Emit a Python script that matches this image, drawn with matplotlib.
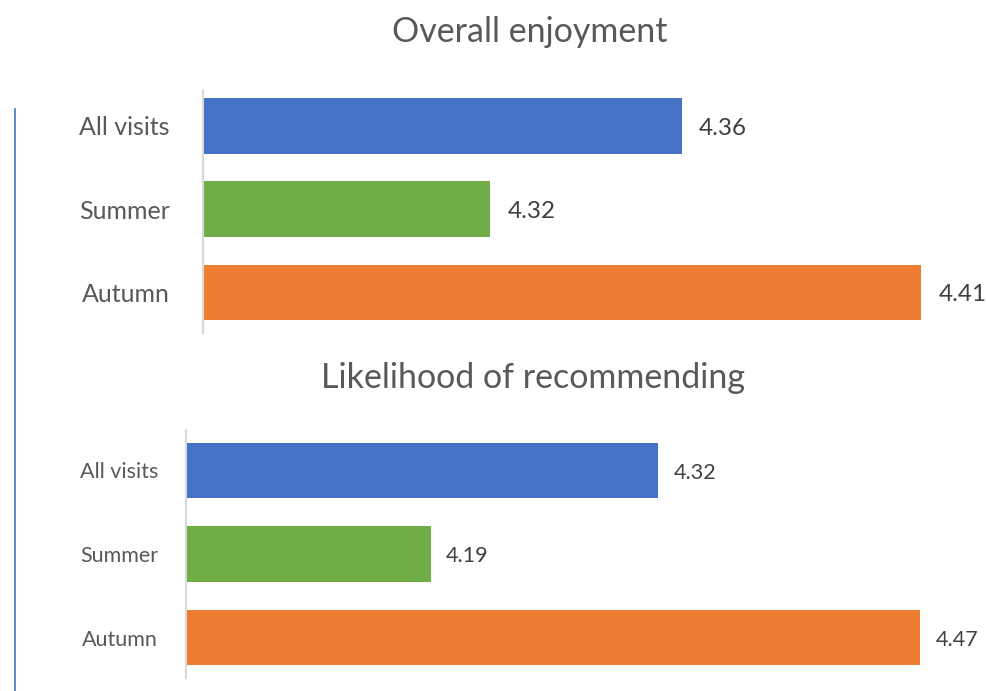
import matplotlib
matplotlib.use("Agg")
import matplotlib.pyplot as plt
from matplotlib.lines import Line2D

categories = ["All visits", "Summer", "Autumn"]
enjoyment = [4.36, 4.32, 4.41]
recommending = [4.32, 4.19, 4.47]
colors = ["#4472C4", "#70AD47", "#ED7D31"]

FONT = "Lato"
LABEL_C = "#595959"
VALUE_C = "#404040"

fig = plt.figure(figsize=(9.86, 6.91), dpi=100)


def panel(rect, values, xlim, ylim, tick_size, value_size, pad, gap):
    ax = fig.add_axes(rect)
    ypos = list(range(len(categories)))
    ax.barh(ypos, values, height=0.67, color=colors, left=0)
    ax.set_xlim(*xlim)
    ax.set_ylim(*ylim)
    ax.set_yticks(ypos)
    ax.set_yticklabels(categories, fontsize=tick_size, color=LABEL_C, family=FONT)
    ax.tick_params(axis="y", length=0, pad=pad)
    ax.set_xticks([])
    for side in ("top", "right", "bottom"):
        ax.spines[side].set_visible(False)
    ax.spines["left"].set_color("#D9D9D9")
    ax.spines["left"].set_linewidth(1.5)
    span = xlim[1] - xlim[0]
    for y, v in zip(ypos, values):
        ax.text(v + span * gap, y + 0.025, f"{v:.2f}", va="center", ha="left",
                fontsize=value_size, color=VALUE_C, family=FONT, clip_on=False)
    return ax


panel([203 / 986, 1 - 333 / 691, 718 / 986, 243 / 691], enjoyment,
      (4.26, 4.41), (2.486, -0.432), 18, 17.5, 24, 0.024)
panel([186 / 986, 1 - 678 / 691, 734 / 986, 248 / 691], recommending,
      (4.05, 4.47), (2.485, -0.485), 15.5, 15.5, 20, 0.021)

fig.text(530 / 986, 1 - 32 / 691, "Overall enjoyment", ha="center", va="center",
         fontsize=24.5, color=LABEL_C, family=FONT)
fig.text(533 / 986, 1 - 378 / 691, "Likelihood of recommending", ha="center",
         va="center", fontsize=24.5, color=LABEL_C, family=FONT)

fig.add_artist(Line2D([15 / 986, 15 / 986], [1 - 109 / 691, 0], transform=fig.transFigure,
                      color="#4472C4", linewidth=1.2))

fig.savefig("out.png", dpi=100)
